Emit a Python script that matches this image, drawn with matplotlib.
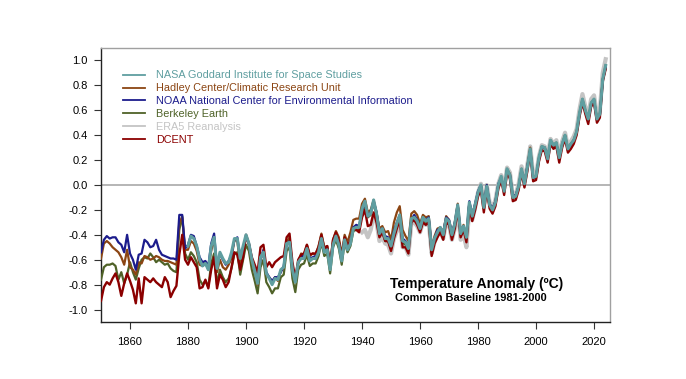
import numpy as np
import matplotlib
matplotlib.use("Agg")
import matplotlib.pyplot as plt

plt.rcParams['font.family'] = ['Liberation Sans', 'DejaVu Sans']

# annual anomalies (deg C) vs 1981-2000
nasa_years = np.arange(1880, 2025)
nasa = [-0.49, -0.41, -0.43, -0.49, -0.60, -0.65, -0.63, -0.68, -0.49, -0.42,
        -0.67, -0.54, -0.59, -0.63, -0.62, -0.54, -0.43, -0.43, -0.59, -0.49,
        -0.40, -0.47, -0.60, -0.69, -0.79, -0.58, -0.54, -0.71, -0.75, -0.80,
        -0.75, -0.76, -0.68, -0.66, -0.47, -0.46, -0.68, -0.78, -0.62, -0.59,
        -0.59, -0.51, -0.61, -0.59, -0.59, -0.54, -0.43, -0.54, -0.52, -0.68,
        -0.48, -0.41, -0.48, -0.61, -0.44, -0.52, -0.47, -0.35, -0.34, -0.34,
        -0.19, -0.13, -0.25, -0.23, -0.12, -0.23, -0.39, -0.35, -0.43, -0.43,
        -0.49, -0.39, -0.31, -0.24, -0.45, -0.46, -0.51, -0.27, -0.26, -0.29,
        -0.35, -0.26, -0.29, -0.27, -0.52, -0.43, -0.38, -0.34, -0.40, -0.27,
        -0.29, -0.40, -0.31, -0.16, -0.39, -0.33, -0.42, -0.14, -0.25, -0.16,
        -0.06, 0.00, -0.18, -0.01, -0.16, -0.20, -0.14, 0.00, 0.07, -0.05,
        0.13, 0.08, -0.10, -0.09, -0.01, 0.13, 0.01, 0.14, 0.29, 0.06,
        0.07, 0.22, 0.31, 0.30, 0.21, 0.36, 0.32, 0.34, 0.22, 0.33,
        0.40, 0.29, 0.33, 0.36, 0.43, 0.58, 0.69, 0.60, 0.53, 0.66,
        0.69, 0.53, 0.57, 0.85, 0.96]

years = np.arange(1850, 2025)
hadley = [-0.59, -0.47, -0.45, -0.47, -0.50, -0.52, -0.54, -0.58, -0.64, -0.52,
          -0.66, -0.68, -0.72, -0.62, -0.63, -0.57, -0.58, -0.60, -0.59, -0.57,
          -0.58, -0.60, -0.61, -0.61, -0.62, -0.63, -0.64, -0.30, -0.26, -0.52,
          -0.52, -0.45, -0.47, -0.53, -0.64, -0.65, -0.62, -0.68, -0.53, -0.43,
          -0.70, -0.60, -0.66, -0.68, -0.64, -0.59, -0.44, -0.45, -0.64, -0.52,
          -0.41, -0.48, -0.61, -0.70, -0.80, -0.60, -0.53, -0.72, -0.74, -0.78,
          -0.74, -0.77, -0.69, -0.67, -0.46, -0.42, -0.66, -0.77, -0.62, -0.55,
          -0.56, -0.48, -0.57, -0.55, -0.56, -0.49, -0.39, -0.50, -0.49, -0.64,
          -0.44, -0.37, -0.42, -0.56, -0.40, -0.46, -0.38, -0.28, -0.27, -0.27,
          -0.15, -0.11, -0.22, -0.20, -0.12, -0.22, -0.35, -0.33, -0.38, -0.37,
          -0.44, -0.30, -0.22, -0.17, -0.36, -0.41, -0.45, -0.23, -0.21, -0.24,
          -0.31, -0.24, -0.26, -0.25, -0.50, -0.41, -0.35, -0.34, -0.38, -0.25,
          -0.28, -0.39, -0.30, -0.15, -0.38, -0.32, -0.43, -0.14, -0.24, -0.16,
          -0.06, 0.00, -0.17, 0.00, -0.16, -0.19, -0.13, 0.00, 0.06, -0.05,
          0.12, 0.09, -0.10, -0.08, -0.02, 0.12, 0.01, 0.15, 0.30, 0.05,
          0.06, 0.21, 0.31, 0.30, 0.22, 0.35, 0.31, 0.33, 0.22, 0.32,
          0.40, 0.28, 0.33, 0.36, 0.42, 0.57, 0.68, 0.59, 0.52, 0.65,
          0.68, 0.53, 0.56, 0.85, 0.94]

noaa = [-0.54, -0.44, -0.41, -0.43, -0.42, -0.42, -0.46, -0.48, -0.54, -0.40,
        -0.55, -0.60, -0.68, -0.56, -0.55, -0.44, -0.46, -0.50, -0.49, -0.44,
        -0.52, -0.56, -0.57, -0.58, -0.59, -0.59, -0.60, -0.24, -0.24, -0.51,
        -0.48, -0.40, -0.41, -0.49, -0.58, -0.62, -0.61, -0.65, -0.47, -0.39,
        -0.66, -0.55, -0.60, -0.64, -0.61, -0.56, -0.44, -0.42, -0.58, -0.50,
        -0.42, -0.47, -0.59, -0.68, -0.76, -0.60, -0.52, -0.70, -0.74, -0.77,
        -0.74, -0.74, -0.70, -0.65, -0.48, -0.45, -0.66, -0.76, -0.63, -0.57,
        -0.57, -0.50, -0.59, -0.58, -0.57, -0.52, -0.42, -0.53, -0.51, -0.65,
        -0.47, -0.40, -0.46, -0.59, -0.44, -0.50, -0.45, -0.34, -0.32, -0.33,
        -0.20, -0.15, -0.25, -0.22, -0.13, -0.22, -0.37, -0.35, -0.41, -0.42,
        -0.48, -0.37, -0.30, -0.24, -0.43, -0.45, -0.50, -0.28, -0.24, -0.28,
        -0.34, -0.27, -0.28, -0.26, -0.50, -0.43, -0.36, -0.35, -0.38, -0.26,
        -0.28, -0.39, -0.30, -0.16, -0.38, -0.33, -0.41, -0.13, -0.24, -0.15,
        -0.05, 0.00, -0.17, 0.00, -0.15, -0.19, -0.13, 0.01, 0.06, -0.04,
        0.12, 0.08, -0.09, -0.08, -0.01, 0.12, 0.02, 0.15, 0.28, 0.05,
        0.07, 0.21, 0.30, 0.30, 0.22, 0.34, 0.32, 0.33, 0.22, 0.32,
        0.39, 0.28, 0.32, 0.36, 0.42, 0.57, 0.67, 0.59, 0.52, 0.64,
        0.67, 0.52, 0.56, 0.84, 0.94]

berkeley = [-0.76, -0.66, -0.64, -0.64, -0.63, -0.65, -0.76, -0.70, -0.79, -0.72,
            -0.62, -0.70, -0.76, -0.67, -0.60, -0.58, -0.59, -0.55, -0.58, -0.62,
            -0.60, -0.62, -0.64, -0.63, -0.67, -0.69, -0.70, -0.36, -0.25, -0.55,
            -0.60, -0.54, -0.57, -0.62, -0.76, -0.80, -0.77, -0.82, -0.63, -0.55,
            -0.80, -0.68, -0.74, -0.78, -0.75, -0.67, -0.55, -0.54, -0.72, -0.60,
            -0.48, -0.53, -0.68, -0.77, -0.87, -0.66, -0.60, -0.78, -0.82, -0.87,
            -0.83, -0.83, -0.74, -0.72, -0.53, -0.50, -0.75, -0.86, -0.68, -0.64,
            -0.63, -0.56, -0.65, -0.63, -0.63, -0.57, -0.46, -0.57, -0.55, -0.71,
            -0.50, -0.44, -0.51, -0.64, -0.46, -0.54, -0.49, -0.37, -0.36, -0.36,
            -0.22, -0.16, -0.26, -0.24, -0.14, -0.25, -0.40, -0.37, -0.45, -0.45,
            -0.51, -0.40, -0.32, -0.26, -0.46, -0.48, -0.52, -0.28, -0.27, -0.30,
            -0.36, -0.27, -0.30, -0.28, -0.54, -0.44, -0.38, -0.36, -0.41, -0.28,
            -0.30, -0.41, -0.32, -0.17, -0.40, -0.34, -0.43, -0.15, -0.26, -0.17,
            -0.07, -0.01, -0.19, -0.02, -0.17, -0.21, -0.15, -0.01, 0.06, -0.06,
            0.13, 0.08, -0.11, -0.09, -0.01, 0.13, 0.01, 0.14, 0.29, 0.06,
            0.07, 0.22, 0.31, 0.30, 0.21, 0.36, 0.32, 0.34, 0.22, 0.33,
            0.40, 0.29, 0.33, 0.36, 0.43, 0.58, 0.69, 0.60, 0.53, 0.66,
            0.69, 0.53, 0.57, 0.85, 0.96]

dcent = [-0.93, -0.82, -0.78, -0.80, -0.75, -0.71, -0.78, -0.89, -0.79, -0.71,
         -0.77, -0.84, -0.95, -0.75, -0.95, -0.74, -0.76, -0.78, -0.75, -0.78,
         -0.80, -0.82, -0.74, -0.78, -0.90, -0.85, -0.81, -0.56, -0.40, -0.60,
         -0.64, -0.58, -0.62, -0.66, -0.83, -0.82, -0.76, -0.83, -0.68, -0.58,
         -0.83, -0.72, -0.76, -0.82, -0.78, -0.66, -0.54, -0.56, -0.68, -0.58,
         -0.40, -0.47, -0.58, -0.64, -0.70, -0.50, -0.48, -0.66, -0.62, -0.66,
         -0.62, -0.60, -0.58, -0.57, -0.42, -0.39, -0.62, -0.75, -0.60, -0.56,
         -0.55, -0.48, -0.56, -0.55, -0.55, -0.50, -0.40, -0.51, -0.49, -0.64,
         -0.44, -0.38, -0.45, -0.58, -0.42, -0.49, -0.45, -0.35, -0.36, -0.38,
         -0.26, -0.20, -0.33, -0.32, -0.22, -0.30, -0.42, -0.38, -0.45, -0.45,
         -0.53, -0.43, -0.35, -0.28, -0.50, -0.50, -0.55, -0.30, -0.28, -0.32,
         -0.38, -0.30, -0.32, -0.30, -0.57, -0.47, -0.42, -0.38, -0.44, -0.30,
         -0.32, -0.44, -0.35, -0.20, -0.42, -0.36, -0.46, -0.18, -0.29, -0.20,
         -0.09, -0.04, -0.22, -0.04, -0.19, -0.23, -0.17, -0.03, 0.04, -0.08,
         0.10, 0.05, -0.13, -0.12, -0.04, 0.10, -0.02, 0.11, 0.27, 0.03,
         0.04, 0.19, 0.28, 0.27, 0.18, 0.33, 0.29, 0.31, 0.18, 0.30,
         0.37, 0.26, 0.29, 0.33, 0.40, 0.55, 0.66, 0.57, 0.49, 0.63,
         0.66, 0.50, 0.54, 0.83, 0.93]

era5_years = np.arange(1940, 2025)
era5 = [-0.38, -0.36, -0.42, -0.36, -0.24, -0.30, -0.45, -0.42, -0.47, -0.48,
        -0.55, -0.43, -0.37, -0.30, -0.50, -0.50, -0.56, -0.31, -0.30, -0.33,
        -0.38, -0.30, -0.32, -0.30, -0.55, -0.46, -0.40, -0.37, -0.43, -0.30,
        -0.32, -0.44, -0.35, -0.19, -0.44, -0.40, -0.50, -0.18, -0.28, -0.18,
        -0.06, 0.01, -0.17, 0.00, -0.14, -0.18, -0.12, 0.01, 0.08, -0.03,
        0.14, 0.10, -0.09, -0.08, 0.01, 0.15, 0.03, 0.16, 0.31, 0.08,
        0.08, 0.23, 0.32, 0.31, 0.23, 0.37, 0.33, 0.36, 0.24, 0.35,
        0.42, 0.31, 0.35, 0.39, 0.45, 0.61, 0.73, 0.63, 0.56, 0.69,
        0.72, 0.56, 0.60, 0.90, 1.01]

yticks = [-1.0, -0.8, -0.6, -0.4, -0.2, 0.0, 0.2, 0.4, 0.6, 0.8, 1.0]
ytick_labels = ['-1.0', '-0.8', '-0.6', '-0.4', '-0.2', '0.0', '0.2', '0.4', '0.6', '0.8', '1.0']
xticks = [1860, 1880, 1900, 1920, 1940, 1960, 1980, 2000, 2020]

c_nasa = '#5f9ea0'
c_hadley = '#8b4513'
c_noaa = '#1c1c8c'
c_berk = '#4f6228'
c_era5 = '#c4c4c4'
c_dcent = '#8b0000'

fig = plt.figure(figsize=(6.86, 3.79), dpi=100)
ax = fig.add_axes([101/686, 1 - 322/379, 509/686, 274/379])

ax.axhline(0, color='#b0b0b0', lw=1.3, zorder=1)

ax.plot(era5_years, era5, color=c_era5, lw=3.0, zorder=2)
ax.plot(years, berkeley, color=c_berk, lw=1.6, zorder=3)
ax.plot(years, hadley, color=c_hadley, lw=1.6, zorder=4)
ax.plot(years, noaa, color=c_noaa, lw=1.6, zorder=5)
ax.plot(years, dcent, color=c_dcent, lw=1.7, zorder=6)
ax.plot(nasa_years, nasa, color=c_nasa, lw=2.2, zorder=7)

ax.set_xlim(1850, 2025.5)
ax.set_ylim(-1.1, 1.1)
ax.set_xticks(xticks)
ax.set_yticks(yticks)
ax.set_yticklabels(ytick_labels)
ax.tick_params(axis='both', labelsize=8, length=5, width=0.8, color='#333333')
ax.tick_params(axis='x', pad=5.5)
ax.tick_params(axis='y', pad=4.5)

for s in ['left', 'bottom']:
    ax.spines[s].set_color('#222222')
    ax.spines[s].set_linewidth(1.0)
for s in ['top', 'right']:
    ax.spines[s].set_color('#a0a0a0')
    ax.spines[s].set_linewidth(1.0)

labels = ['NASA Goddard Institute for Space Studies',
          'Hadley Center/Climatic Research Unit',
          'NOAA National Center for Environmental Information',
          'Berkeley Earth',
          'ERA5 Reanalysis',
          'DCENT']
cols = [c_nasa, c_hadley, c_noaa, c_berk, c_era5, c_dcent]
handles = [plt.Line2D([], [], color=c, lw=1.3) for c in cols]
leg = ax.legend(handles, labels, loc='upper left', bbox_to_anchor=(0.035, 0.934),
                frameon=False, fontsize=7.8, handlelength=2.0, handletextpad=1.0,
                labelspacing=0.27, borderaxespad=0)
for t, c in zip(leg.get_texts(), cols):
    t.set_color(c)

ax.text(0.737, 0.139, 'Temperature Anomaly (ºC)', transform=ax.transAxes,
        ha='center', va='center', fontsize=10, fontweight='bold')
ax.text(0.727, 0.088, 'Common Baseline 1981-2000', transform=ax.transAxes,
        ha='center', va='center', fontsize=7.9, fontweight='bold')

fig.savefig('out.png', dpi=100)
